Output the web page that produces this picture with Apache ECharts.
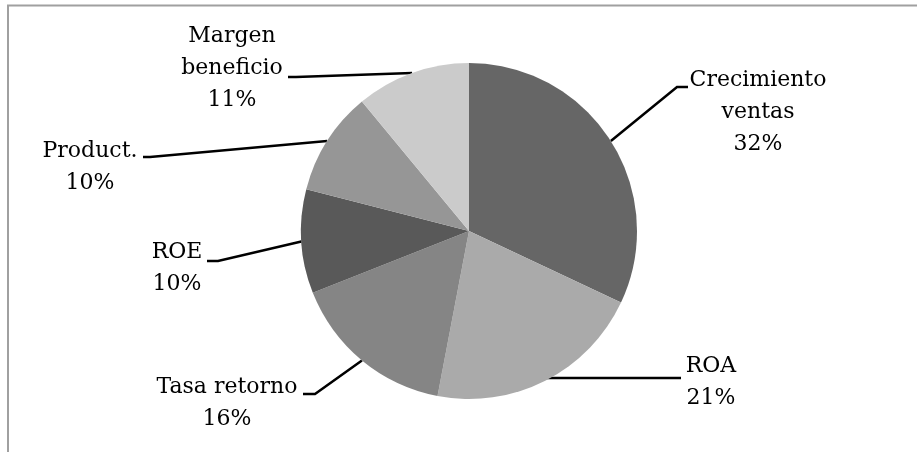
<!DOCTYPE html>
<html>
<head>
<meta charset="utf-8">
<script src="https://cdn.jsdelivr.net/npm/echarts@6/dist/echarts.min.js"></script>
<style>
  html, body { margin: 0; padding: 0; background: #fff; }
  #chart { width: 917px; height: 452px; }
</style>
</head>
<body>
<div id="chart"></div>
<script>
// data
var categories = ['Crecimiento\nventas', 'ROA', 'Tasa retorno', 'ROE', 'Product.', 'Margen\nbeneficio'];
var values = [32, 21, 16, 10, 10, 11];
var sliceColors = ['#666666', '#aaaaaa', '#858585', '#595959', '#969696', '#cbcbcb'];

// where each label sits (centre x, top y) and its leader line bend / end
var labelPos = [
  { x: 758, y: 64,  knee: [677, 87],  end: [688, 87] },
  { x: 711, y: 350, knee: [600, 378], end: [681, 378], from: [521, 378] },
  { x: 227, y: 371, knee: [315, 394], end: [303, 394] },
  { x: 177, y: 236, knee: [218, 261], end: [207, 261] },
  { x: 90,  y: 135, knee: [150, 157], end: [143, 157] },
  { x: 232, y: 20,  knee: [296, 77],  end: [288, 77] }
];

var chart = echarts.init(document.getElementById('chart'));

var option = {
  animation: false,
  color: sliceColors,
  graphic: [{
    type: 'polyline',
    shape: { points: [[8, 452], [8, 5.5], [917, 5.5]] },
    style: { stroke: '#a0a0a0', lineWidth: 2, fill: null }
  }],
  series: [{
    type: 'pie',
    center: [469, 231],
    radius: 168,
    startAngle: 90,
    clockwise: true,
    percentPrecision: 0,
    data: categories.map(function (c, i) {
      return { name: c, value: values[i] };
    }),
    itemStyle: { borderWidth: 0 },
    label: {
      show: true,
      formatter: '{b}\n{d}%',
      fontFamily: 'DejaVu Serif',
      fontSize: 22,
      lineHeight: 32,
      color: '#000',
      align: 'center'
    },
    labelLine: {
      show: true,
      lineStyle: { color: '#000', width: 2.5 }
    },
    labelLayout: function (params) {
      var p = labelPos[params.dataIndex];
      var start = p.from || (params.labelLinePoints ? params.labelLinePoints[0] : p.knee);
      return {
        x: p.x,
        y: p.y,
        align: 'center',
        verticalAlign: 'top',
        labelLinePoints: [start, p.knee, p.end]
      };
    }
  }]
};

chart.setOption(option);
</script>
</body>
</html>
